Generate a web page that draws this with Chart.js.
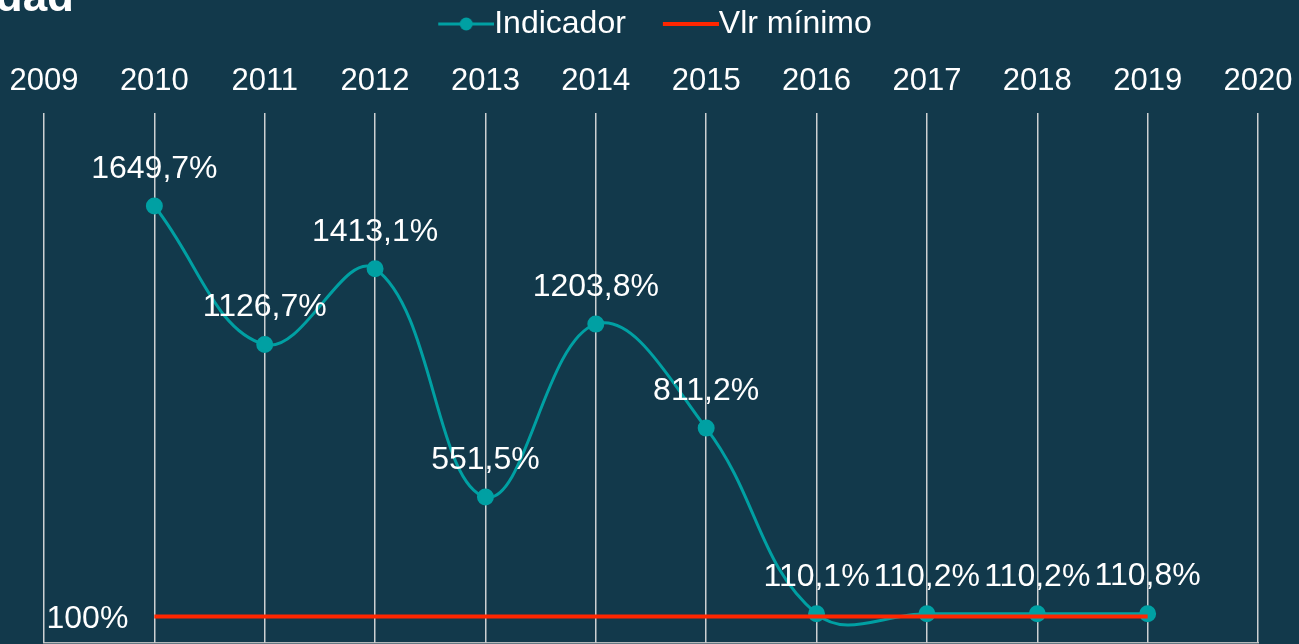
<!DOCTYPE html>
<html>
<head>
<meta charset="utf-8">
<script src="https://cdn.jsdelivr.net/npm/chart.js@4"></script>
<style>
  html, body { margin: 0; padding: 0; background: #12394b; }
  #wrap { width: 1299px; height: 644px; }
</style>
</head>
<body>
<div id="wrap"><canvas id="myChart"></canvas></div>
<script>
var years = ['2009', '2010', '2011', '2012', '2013', '2014', '2015', '2016', '2017', '2018', '2019', '2020'];
var indicador = [null, 1649.7, 1126.7, 1413.1, 551.5, 1203.8, 811.2, 110.1, 110.2, 110.2, 110.8, null];
var vlrMinimo = [null, 100, 100, 100, 100, 100, 100, 100, 100, 100, 100, null];
var titleText = 'dad';

var teal = 'rgb(0, 160, 163)';
var red = 'rgb(255, 38, 0)';
var font = 'Liberation Sans, Arial, sans-serif';

// legend symbols: line with dot / plain line, drawn at the right end of a wider canvas
function legendIcon(color, dot) {
    var c = document.createElement('canvas');
    c.width = 102; c.height = 16;
    var g = c.getContext('2d');
    g.strokeStyle = color;
    g.lineWidth = dot ? 3 : 4;
    g.beginPath(); g.moveTo(46, 8); g.lineTo(102, 8); g.stroke();
    if (dot) {
        g.fillStyle = color;
        g.beginPath(); g.arc(74, 8, 6.5, 0, Math.PI * 2); g.fill();
    }
    return c;
}

var labelsPlugin = {
    id: 'valueLabels',
    afterLayout: function(chart) {
        // nudge legend so its visible part sits where the original has it
        chart.legend.left -= 11;
        chart.legend.right -= 11;
    },
    afterDatasetsDraw: function(chart) {
        var ctx = chart.ctx;
        ctx.save();
        ctx.fillStyle = '#ffffff';
        ctx.font = '32px ' + font;
        ctx.textAlign = 'center';
        ctx.textBaseline = 'middle';
        chart.getDatasetMeta(0).data.forEach(function(pt, i) {
            var v = indicador[i];
            if (v === null) return;
            ctx.fillText(v.toFixed(1).replace('.', ',') + '%', pt.x, pt.y - 37);
        });
        // minimum value label at left of red line
        var red0 = chart.getDatasetMeta(1).data[1];
        ctx.textAlign = 'right';
        ctx.fillText(vlrMinimo[1] + '%', red0.x - 26, red0.y + 3);
        // cut title
        ctx.font = 'bold 44px ' + font;
        ctx.textBaseline = 'alphabetic';
        ctx.fillText(titleText, 74, 11);
        ctx.restore();
    }
};

var ctx = document.getElementById('myChart').getContext('2d');
var chart = new Chart(ctx, {
    type: 'line',
    data: {
        labels: years,
        datasets: [{
            label: 'Indicador',
            data: indicador,
            borderColor: teal,
            backgroundColor: teal,
            borderWidth: 3,
            pointRadius: 7,
            pointHoverRadius: 7,
            pointStyle: 'circle',
            tension: 0.4,
            order: 1
        }, {
            label: 'Vlr mínimo',
            data: vlrMinimo,
            borderColor: red,
            backgroundColor: red,
            borderWidth: 4,
            pointRadius: 0,
            tension: 0,
            order: 0
        }]
    },
    options: {
        responsive: true,
        maintainAspectRatio: false,
        animation: false,
        layout: { autoPadding: false, padding: { left: 44, right: 41, top: 1, bottom: 1 } },
        plugins: {
            tooltip: { enabled: false },
            legend: {
                position: 'top',
                labels: {
                    color: '#ffffff',
                    font: { family: font, size: 32 },
                    padding: 7,
                    usePointStyle: true,
                    pointStyleWidth: 70,
                    sort: function(a, b) { return a.datasetIndex - b.datasetIndex; },
                    generateLabels: function(chart) {
                        var items = Chart.defaults.plugins.legend.labels.generateLabels(chart);
                        items.forEach(function(it) {
                            it.pointStyle = it.datasetIndex === 0 ? legendIcon(teal, true) : legendIcon(red, false);
                        });
                        return items;
                    }
                }
            }
        },
        scales: {
            x: {
                position: 'top',
                offset: false,
                grid: { display: true, color: 'rgba(225,225,225,0.9)', lineWidth: 1.5, drawTicks: false },
                border: { display: false },
                ticks: { color: '#ffffff', font: { family: font, size: 31, lineHeight: 1.394 }, padding: 10, maxRotation: 0, autoSkip: false },
                afterFit: function(s) { s.paddingLeft = 0; s.paddingRight = 0; }
            },
            x2: {
                position: 'bottom',
                labels: years,
                offset: false,
                grid: { display: false, drawTicks: false },
                border: { display: true, color: 'rgba(200,200,200,0.9)', width: 1.5 },
                ticks: { display: false },
                afterFit: function(s) { s.height = 0; s.paddingLeft = 0; s.paddingRight = 0; }
            },
            y: {
                display: false,
                min: 0,
                max: 2000
            }
        }
    },
    plugins: [labelsPlugin]
});
</script>
</body>
</html>
